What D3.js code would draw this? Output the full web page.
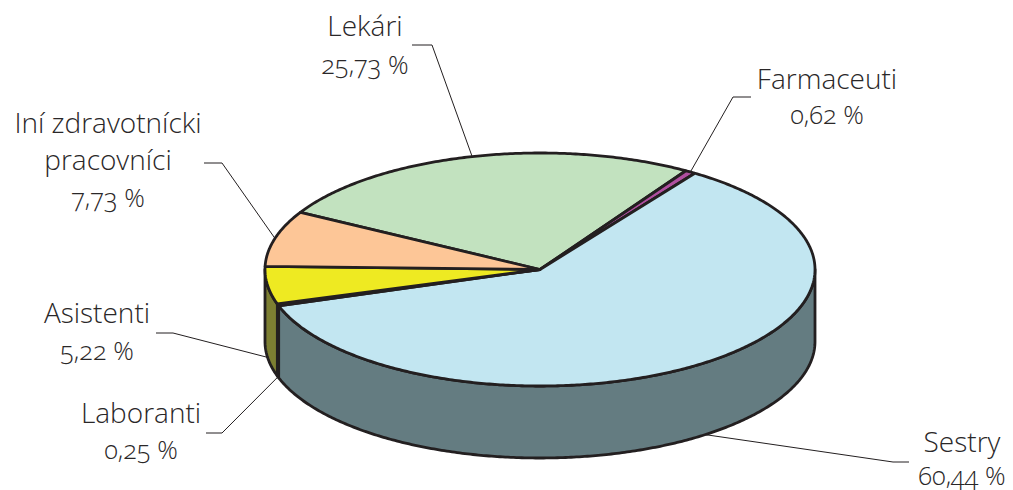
<!DOCTYPE html>
<html>
<head>
<meta charset="utf-8">
<script src="https://cdn.jsdelivr.net/npm/d3@7"></script>
<style>
  html, body { margin: 0; padding: 0; background: #fff; }
  svg { display: block; }
  text { font-family: "Open Sans", sans-serif; font-weight: 300; font-size: 28px; fill: #2a2728; font-variant-numeric: oldstyle-nums; }
  text.share { font-size: 25.5px; }
</style>
</head>
<body>
<svg></svg>
<script>
const categories = ["Lekári", "Farmaceuti", "Sestry", "Laboranti", "Asistenti", "Iní zdravotnícki pracovníci"];
const shares = [25.73, 0.62, 60.44, 0.25, 5.22, 7.73];
const shareLabels = ["25,73 %", "0,62 %", "60,44 %", "0,25 %", "5,22 %", "7,73 %"];
const topColors = ["#c2e2bf", "#b04fa0", "#c2e6f1", "#2a2526", "#eeea22", "#fdc697"];
const sideColors = ["#61715f", "#582850", "#647c81", "#2a2526", "#7d7f32", "#7f634b"];

const width = 1013, height = 490;
const cx = 540, cy = 269.5, rx = 275, ry = 116.5, depth = 72;

// label layout: text centre, baselines, then leader elbow and stub end
const labelLayout = [
    { x: 365, lines: ["Lekári"], y: [36, 74], elbow: [432, 45], end: [412, 45], wall: false },
    { x: 827, lines: ["Farmaceuti"], y: [89, 124], elbow: [733, 97], end: [751, 97], wall: false },
    { x: 962, lines: ["Sestry"], y: [452, 485], elbow: [893, 462], end: [909, 462], wall: true },
    { x: 141, lines: ["Laboranti"], y: [423, 459], elbow: [222, 433], end: [206, 433], wall: true },
    { x: 97, lines: ["Asistenti"], y: [323, 360], elbow: [173, 333], end: [156, 333], wall: true },
    { x: 108, lines: ["Iní zdravotnícki", "pracovníci"], y: [133, 170, 207], elbow: [222, 163], end: [204, 163], wall: false }
];

const svg = d3.select("svg").attr("width", width).attr("height", height);

const xScale = d3.scaleLinear().domain([-1, 1]).range([cx - rx, cx + rx]);
const yScale = d3.scaleLinear().domain([-1, 1]).range([cy - ry, cy + ry]);

const pie = d3.pie().sort(null)
    .startAngle(-60.6 * Math.PI / 180)
    .endAngle(299.4 * Math.PI / 180);
const slices = pie(shares);

const line = d3.line();

// angle is clockwise from the top, as in d3.pie
function rimPoint(angle, drop) {
    return [xScale(Math.sin(angle)), yScale(-Math.cos(angle)) + drop];
}

function rimPoints(a0, a1, drop) {
    const n = Math.max(2, Math.ceil((a1 - a0) / 0.01));
    return d3.range(n + 1).map(i => rimPoint(a0 + (a1 - a0) * i / n, drop));
}

// Side walls first, only the part of the rim facing the viewer
const walls = svg.append("g");
slices.forEach((d, i) => {
    const a0 = Math.max(d.startAngle, Math.PI / 2);
    const a1 = Math.min(d.endAngle, Math.PI * 1.5);
    if (a1 <= a0) return;
    const pts = rimPoints(a0, a1, 0).concat(rimPoints(a0, a1, depth).reverse());
    walls.append("path")
        .attr("d", line(pts) + "Z")
        .attr("fill", sideColors[i])
        .attr("stroke", "#231f20")
        .attr("stroke-width", 2.8)
        .attr("stroke-linejoin", "round");
});

// Top faces
const faces = svg.append("g");
slices.forEach((d, i) => {
    const pts = [[cx, cy]].concat(rimPoints(d.startAngle, d.endAngle, 0));
    faces.append("path")
        .attr("d", line(pts) + "Z")
        .attr("fill", topColors[i])
        .attr("stroke", "#231f20")
        .attr("stroke-width", 2.8)
        .attr("stroke-linejoin", "round");
});

// Leader lines start at the middle of each slice's rim
const leaders = svg.append("g");
slices.forEach((d, i) => {
    const l = labelLayout[i];
    const mid = (d.startAngle + d.endAngle) / 2;
    leaders.append("path")
        .attr("d", line([rimPoint(mid, l.wall ? depth : 0), l.elbow, l.end]))
        .attr("fill", "none")
        .attr("stroke", "#231f20")
        .attr("stroke-width", 1);
});

// Labels
const labels = svg.append("g");
categories.forEach((name, i) => {
    const l = labelLayout[i];
    l.lines.forEach((t, j) => {
        labels.append("text")
            .attr("x", l.x)
            .attr("y", l.y[j])
            .attr("text-anchor", "middle")
            .text(t);
    });
    labels.append("text")
        .attr("class", "share")
        .attr("x", l.x)
        .attr("y", l.y[l.lines.length])
        .attr("text-anchor", "middle")
        .text(shareLabels[i]);
});
</script>
</body>
</html>
